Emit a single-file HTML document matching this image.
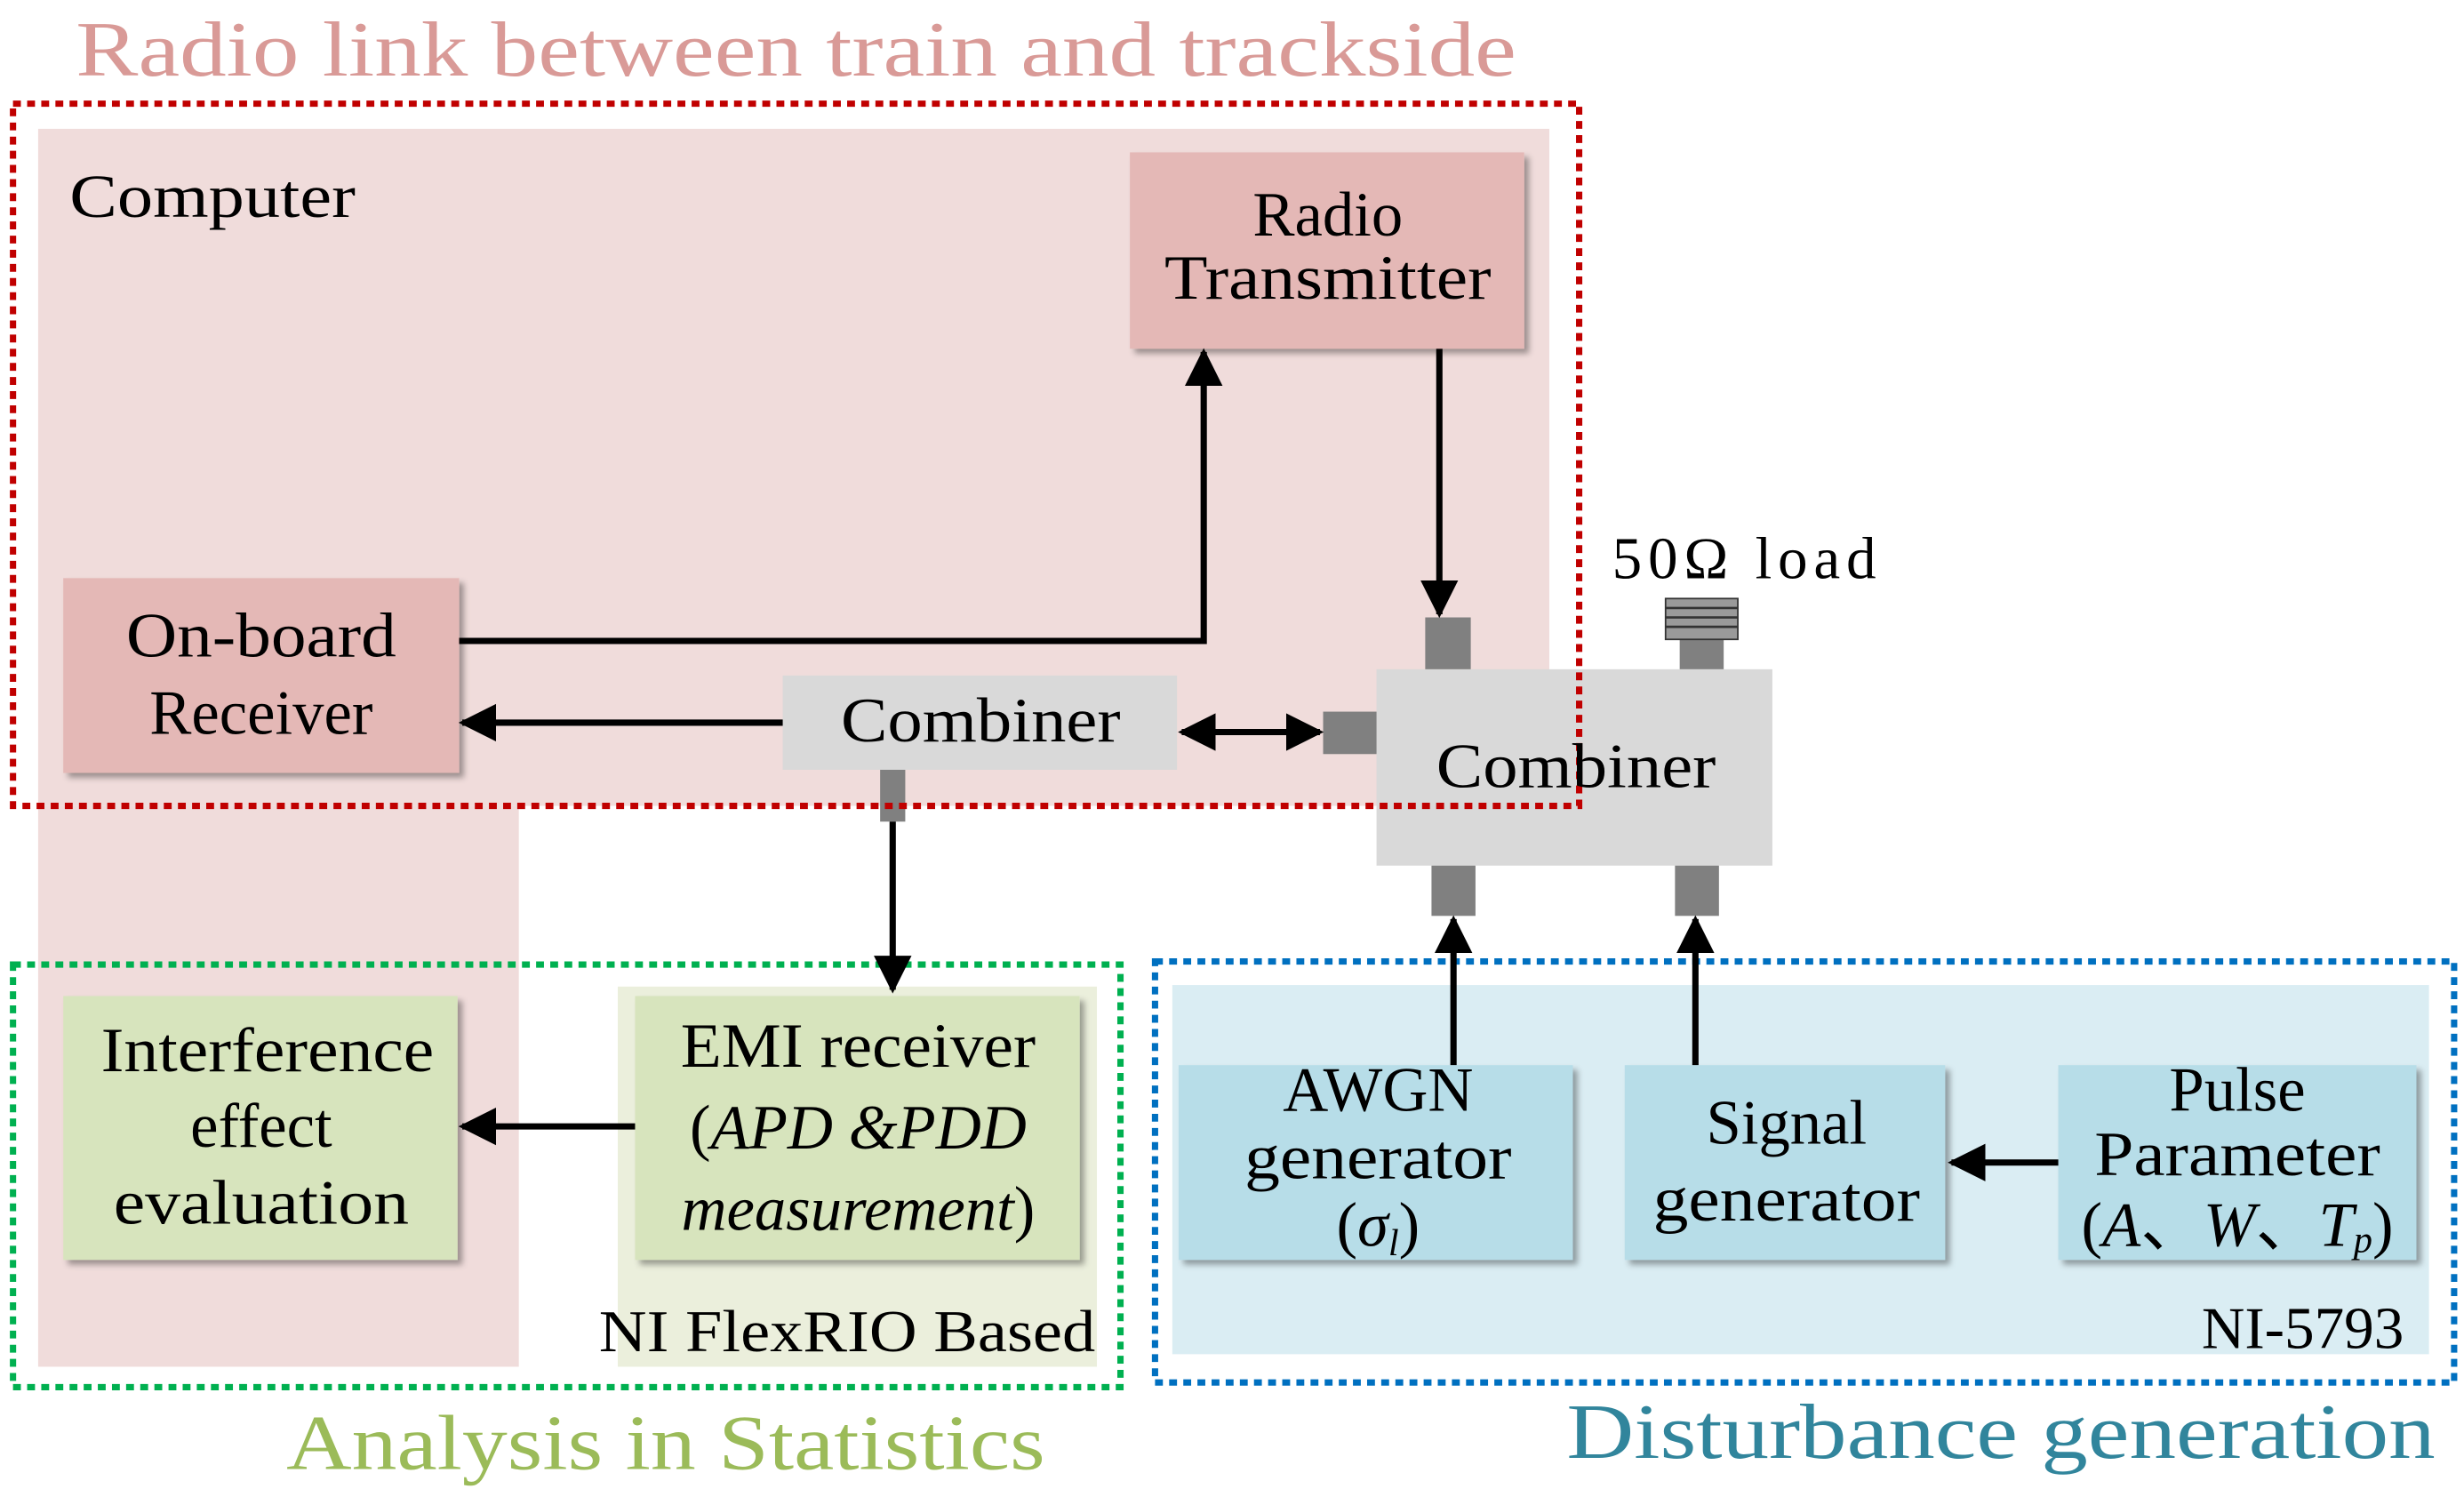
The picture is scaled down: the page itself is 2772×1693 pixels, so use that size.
<!DOCTYPE html>
<html><head><meta charset="utf-8"><style>html,body{margin:0;padding:0;background:#fff}svg{display:block}</style></head><body>
<svg width="2772" height="1693" viewBox="0 0 1568 958" xmlns="http://www.w3.org/2000/svg" font-family="Liberation Serif, serif">
<defs>
<marker id="ah" viewBox="0 0 10 10" refX="9" refY="5" markerWidth="6" markerHeight="6" orient="auto-start-reverse" markerUnits="strokeWidth"><path d="M0,0 L10,5 L0,10 z" fill="#000"/></marker>
<filter id="sh" x="-10%" y="-10%" width="130%" height="130%"><feDropShadow dx="3" dy="3" stdDeviation="2" flood-color="#000" flood-opacity="0.35"/></filter>
</defs>
<rect x="24" y="82" width="962" height="431" fill="#f0dcdb"/>
<rect x="24" y="513" width="306" height="357" fill="#f0dcdb"/>
<rect x="393" y="628" width="305" height="242" fill="#ebefdc"/>
<rect x="746" y="627" width="800" height="235" fill="#daedf3"/>
<text x="48" y="48" font-size="50" fill="#d99a97" textLength="917" lengthAdjust="spacingAndGlyphs">Radio link between train and trackside</text>
<text x="182" y="935" font-size="50" fill="#9bbb59" textLength="483" lengthAdjust="spacingAndGlyphs">Analysis in Statistics</text>
<text x="997" y="928" font-size="50" fill="#31859c" textLength="553" lengthAdjust="spacingAndGlyphs">Disturbance generation</text>
<text x="44" y="138" font-size="39" textLength="182" lengthAdjust="spacingAndGlyphs">Computer</text>
<g filter="url(#sh)">
<rect x="719" y="97" width="251" height="125" fill="#e4b8b6"/>
<rect x="40" y="368" width="252" height="124" fill="#e4b8b6"/>
<rect x="40" y="634" width="251" height="168" fill="#d7e4bd"/>
<rect x="404" y="634" width="283" height="168" fill="#d7e4bd"/>
<rect x="750" y="678" width="251" height="124" fill="#b7dde8"/>
<rect x="1034" y="678" width="204" height="124" fill="#b7dde8"/>
<rect x="1310" y="678" width="228" height="124" fill="#b7dde8"/>
</g>
<rect x="498" y="430" width="251" height="60" fill="#d9d9d9"/>
<rect x="876" y="426" width="252" height="125" fill="#d9d9d9"/>
<g fill="#808080">
<rect x="560" y="490" width="16" height="33"/>
<rect x="907" y="393" width="29" height="33"/>
<rect x="1069" y="405" width="28" height="21"/>
<rect x="842" y="453" width="34" height="27"/>
<rect x="911" y="551" width="28" height="32"/>
<rect x="1066" y="551" width="28" height="32"/>
</g>
<rect x="1060" y="381" width="46" height="26" fill="#9a9a9a" stroke="#333" stroke-width="1"/>
<g stroke="#333" stroke-width="1.5"><line x1="1060" y1="387" x2="1106" y2="387"/><line x1="1060" y1="393" x2="1106" y2="393"/><line x1="1060" y1="399" x2="1106" y2="399"/></g>
<rect x="8" y="66" width="997" height="447" fill="none" stroke="#c00000" stroke-width="4" stroke-dasharray="5,4"/>
<rect x="8" y="614" width="705" height="269" fill="none" stroke="#00b050" stroke-width="4" stroke-dasharray="5,4"/>
<rect x="735" y="612" width="827" height="268" fill="none" stroke="#0070c0" stroke-width="4" stroke-dasharray="5,4"/>
<g stroke="#000" stroke-width="4" fill="none">
<polyline points="292,408 766,408 766,224" marker-end="url(#ah)"/>
<line x1="916" y1="222" x2="916" y2="391" marker-end="url(#ah)"/>
<line x1="498" y1="460" x2="294" y2="460" marker-end="url(#ah)"/>
<line x1="752" y1="466" x2="840" y2="466" marker-start="url(#ah)" marker-end="url(#ah)"/>
<line x1="568" y1="523" x2="568" y2="630" marker-end="url(#ah)"/>
<line x1="404" y1="717" x2="294" y2="717" marker-end="url(#ah)"/>
<line x1="925" y1="678" x2="925" y2="585" marker-end="url(#ah)"/>
<line x1="1079" y1="678" x2="1079" y2="585" marker-end="url(#ah)"/>
<line x1="1310" y1="740" x2="1242" y2="740" marker-end="url(#ah)"/>
</g>
<g font-size="40" text-anchor="middle" fill="#000">
<text x="845" y="150">Radio</text>
<text x="845" y="190" textLength="208" lengthAdjust="spacingAndGlyphs">Transmitter</text>
<text x="166" y="418" textLength="172" lengthAdjust="spacingAndGlyphs">On-board</text>
<text x="166" y="467">Receiver</text>
<text x="624" y="472" textLength="178" lengthAdjust="spacingAndGlyphs">Combiner</text>
<text x="1003" y="501" textLength="178" lengthAdjust="spacingAndGlyphs">Combiner</text>
<text x="170" y="682" textLength="212" lengthAdjust="spacingAndGlyphs">Interference</text>
<text x="166" y="730">effect</text>
<text x="166" y="779" textLength="188" lengthAdjust="spacingAndGlyphs">evaluation</text>
<text x="546" y="679" textLength="226" lengthAdjust="spacingAndGlyphs">EMI receiver</text>
<text x="546" y="731">(<tspan font-style="italic">APD &amp;PDD</tspan></text>
<text x="546" y="783"><tspan font-style="italic">measurement</tspan>)</text>
<text x="877" y="707">AWGN</text>
<text x="877" y="750" textLength="170" lengthAdjust="spacingAndGlyphs">generator</text>
<text x="877" y="793">(<tspan font-style="italic">σ</tspan><tspan font-style="italic" font-size="24" dy="6">l</tspan><tspan dy="-6">)</tspan></text>
<text x="1137" y="728">Signal</text>
<text x="1137" y="777" textLength="170" lengthAdjust="spacingAndGlyphs">generator</text>
<text x="1424" y="707">Pulse</text>
<text x="1424" y="748" textLength="182" lengthAdjust="spacingAndGlyphs">Parameter</text>
<text x="1424" y="793">(<tspan font-style="italic">A</tspan>、<tspan font-style="italic">W</tspan>、<tspan font-style="italic">T</tspan><tspan font-style="italic" font-size="24" dy="4">p</tspan><tspan dy="-4">)</tspan></text>
</g>
<g font-size="38" text-anchor="end">
<text x="697" y="860" textLength="316" lengthAdjust="spacingAndGlyphs">NI FlexRIO Based</text>
<text x="1530" y="858">NI-5793</text>
<text x="1194" y="368" textLength="168" lengthAdjust="spacing">50Ω  load</text>
</g>
</svg>
</body></html>
